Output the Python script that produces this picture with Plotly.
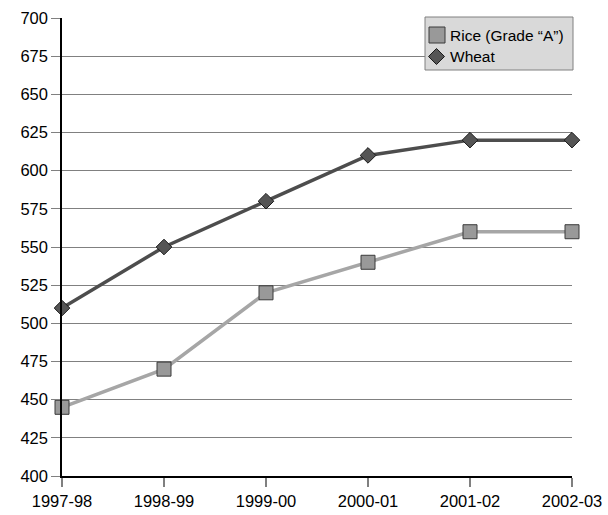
import plotly.graph_objects as go

# Season labels and procurement prices
seasons = ["1997-98", "1998-99", "1999-00", "2000-01", "2001-02", "2002-03"]
rice_grade_a = [445, 470, 520, 540, 560, 560]
wheat = [510, 550, 580, 610, 620, 620]
y_ticks = list(range(400, 701, 25))
series_names = ["Rice (Grade \u201cA\u201d)", "Wheat"]

FONT = "Liberation Sans, Arial, sans-serif"
W, H = 608, 515
ML, MR, MT, MB = 62, 36, 18, 39
PW, PH = W - ML - MR, H - MT - MB

RICE_FILL, RICE_LINE = "#999999", "#a6a6a6"
WHEAT_FILL, WHEAT_LINE = "#555555", "#4d4d4d"


def px_x(x):
    return (x - ML) / PW


def px_y(y):
    return (H - MB - y) / PH


fig = go.Figure()

fig.add_trace(go.Scatter(
    x=seasons, y=rice_grade_a, mode="lines+markers", name=series_names[0],
    line=dict(color=RICE_LINE, width=3.5),
    marker=dict(symbol="square", size=14, color=RICE_FILL,
                line=dict(color="#3a3a3a", width=1)),
    cliponaxis=False,
))
fig.add_trace(go.Scatter(
    x=seasons, y=wheat, mode="lines+markers", name=series_names[1],
    line=dict(color=WHEAT_LINE, width=3.5),
    marker=dict(symbol="diamond", size=12, color=WHEAT_FILL,
                line=dict(color="#1a1a1a", width=1)),
    cliponaxis=False,
))

# Boxed legend drawn in the top-right corner of the plot area
shapes = [
    dict(type="rect", xref="paper", yref="paper",
         x0=px_x(425), x1=px_x(573), y0=px_y(70), y1=px_y(17),
         fillcolor="#d9d9d9", line=dict(color="#808080", width=1), layer="above"),
    dict(type="rect", xref="paper", yref="paper",
         x0=px_x(429), x1=px_x(445), y0=px_y(43), y1=px_y(27),
         fillcolor=RICE_FILL, line=dict(color="#3a3a3a", width=1), layer="above"),
]
cx, cy, r = 436.5, 56.5, 8
diamond = "M {} {} L {} {} L {} {} L {} {} Z".format(
    px_x(cx), px_y(cy - r), px_x(cx + r), px_y(cy),
    px_x(cx), px_y(cy + r), px_x(cx - r), px_y(cy))
shapes.append(dict(type="path", xref="paper", yref="paper", path=diamond,
                   fillcolor=WHEAT_FILL, line=dict(color="#1a1a1a", width=1),
                   layer="above"))

annotations = [
    dict(text=series_names[0], xref="paper", yref="paper",
         x=px_x(448), y=px_y(35), xanchor="left", yanchor="middle",
         showarrow=False, font=dict(family=FONT, size=15.5, color="#000000")),
    dict(text=series_names[1], xref="paper", yref="paper",
         x=px_x(448), y=px_y(56.5), xanchor="left", yanchor="middle",
         showarrow=False, font=dict(family=FONT, size=15.5, color="#000000")),
]

fig.update_layout(
    width=W, height=H,
    margin=dict(l=ML, r=MR, t=MT, b=MB, autoexpand=False),
    paper_bgcolor="white", plot_bgcolor="white",
    font=dict(family=FONT, size=16.5, color="#000000"),
    showlegend=False,
    shapes=shapes,
    annotations=annotations,
    xaxis=dict(
        type="category", categoryorder="array", categoryarray=seasons,
        range=[0, 5], showgrid=False, zeroline=False, automargin=False,
        showline=True, linecolor="#000000", linewidth=1.5,
        ticks="outside", ticklen=9, tickcolor="#808080", tickwidth=1.5,
        tickfont=dict(family=FONT, size=16.5), fixedrange=True,
    ),
    yaxis=dict(
        range=[400, 700], tickvals=y_ticks, automargin=False,
        showgrid=True, gridcolor="#808080", gridwidth=1, zeroline=False,
        showline=True, linecolor="#000000", linewidth=1.5,
        ticks="outside", ticklen=9, tickcolor="#808080", tickwidth=1,
        tickfont=dict(family=FONT, size=16.5), fixedrange=True,
    ),
)

fig.write_html("out.html")
